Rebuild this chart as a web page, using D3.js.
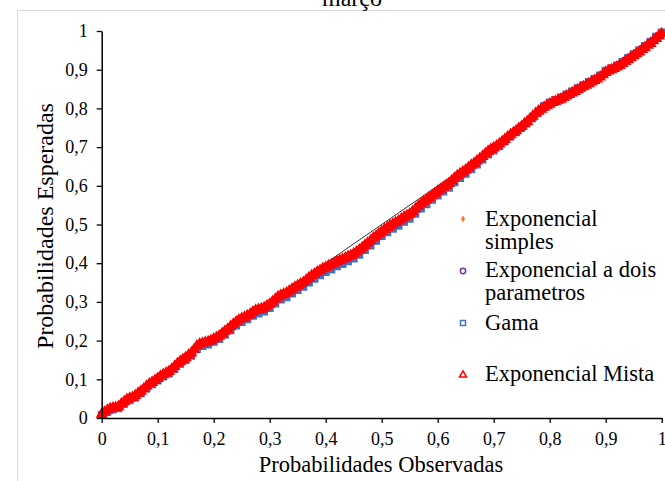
<!DOCTYPE html>
<html>
<head>
<meta charset="utf-8">
<script src="https://cdn.jsdelivr.net/npm/d3@7"></script>
<style>
  html, body { margin: 0; padding: 0; background: #fff; }
  svg { display: block; }
  text { font-family: "Liberation Serif", "Times New Roman", serif; fill: #000; }
</style>
</head>
<body>
<svg id="chart" width="665" height="481"></svg>
<script>
// ---------------- DATA ----------------
const chartTitle = "março";
const xTitle = "Probabilidades Observadas";
const yTitle = "Probabilidades Esperadas";
const tickValues = [0, 0.1, 0.2, 0.3, 0.4, 0.5, 0.6, 0.7, 0.8, 0.9, 1];
const tickLabels = ["0", "0,1", "0,2", "0,3", "0,4", "0,5", "0,6", "0,7", "0,8", "0,9", "1"];
const seriesNames = ["Exponencial simples", "Exponencial a dois parametros", "Gama", "Exponencial Mista"];

// observed probabilities (fine grid) and Exponencial Mista expected values
const obsFine = [0,0.005,0.01,0.015,0.02,0.025,0.03,0.035,0.04,0.045,0.05,0.055,0.06,0.065,0.07,0.075,0.08,0.085,0.09,0.095,
0.1,0.105,0.11,0.115,0.12,0.125,0.13,0.135,0.14,0.145,0.15,0.155,0.16,0.165,0.17,0.175,0.18,0.185,0.19,0.195,
0.2,0.205,0.21,0.215,0.22,0.225,0.23,0.235,0.24,0.245,0.25,0.255,0.26,0.265,0.27,0.275,0.28,0.285,0.29,0.295,
0.3,0.305,0.31,0.315,0.32,0.325,0.33,0.335,0.34,0.345,0.35,0.355,0.36,0.365,0.37,0.375,0.38,0.385,0.39,0.395,
0.4,0.405,0.41,0.415,0.42,0.425,0.43,0.435,0.44,0.445,0.45,0.455,0.46,0.465,0.47,0.475,0.48,0.485,0.49,0.495,
0.5,0.505,0.51,0.515,0.52,0.525,0.53,0.535,0.54,0.545,0.55,0.555,0.56,0.565,0.57,0.575,0.58,0.585,0.59,0.595,
0.6,0.605,0.61,0.615,0.62,0.625,0.63,0.635,0.64,0.645,0.65,0.655,0.66,0.665,0.67,0.675,0.68,0.685,0.69,0.695,
0.7,0.705,0.71,0.715,0.72,0.725,0.73,0.735,0.74,0.745,0.75,0.755,0.76,0.765,0.77,0.775,0.78,0.785,0.79,0.795,
0.8,0.805,0.81,0.815,0.82,0.825,0.83,0.835,0.84,0.845,0.85,0.855,0.86,0.865,0.87,0.875,0.88,0.885,0.89,0.895,
0.9,0.905,0.91,0.915,0.92,0.925,0.93,0.935,0.94,0.945,0.95,0.955,0.96,0.965,0.97,0.975,0.98,0.985,0.99,0.995,1];
const expMista = [0.010,0.015,0.020,0.024,0.026,0.027,0.029,0.036,0.042,0.048,0.051,0.053,0.058,0.064,0.069,0.075,0.082,0.088,0.092,0.097,
0.102,0.108,0.112,0.116,0.120,0.126,0.133,0.140,0.146,0.151,0.156,0.162,0.168,0.177,0.186,0.191,0.193,0.195,0.197,0.200,
0.204,0.208,0.212,0.218,0.224,0.229,0.236,0.242,0.248,0.253,0.257,0.260,0.264,0.268,0.274,0.278,0.280,0.282,0.285,0.290,
0.294,0.300,0.307,0.313,0.317,0.320,0.323,0.328,0.333,0.338,0.342,0.346,0.350,0.356,0.362,0.368,0.372,0.377,0.381,0.386,
0.389,0.393,0.396,0.400,0.404,0.407,0.410,0.413,0.417,0.420,0.424,0.429,0.434,0.440,0.446,0.452,0.458,0.465,0.470,0.476,
0.482,0.487,0.492,0.497,0.501,0.505,0.509,0.514,0.519,0.523,0.527,0.533,0.540,0.547,0.553,0.559,0.564,0.570,0.575,0.580,
0.586,0.591,0.596,0.601,0.606,0.613,0.620,0.626,0.631,0.636,0.641,0.647,0.653,0.658,0.664,0.670,0.676,0.683,0.689,0.694,
0.698,0.703,0.708,0.714,0.720,0.726,0.732,0.737,0.742,0.748,0.754,0.760,0.766,0.773,0.780,0.787,0.793,0.798,0.803,0.807,
0.811,0.815,0.818,0.821,0.824,0.828,0.832,0.836,0.840,0.844,0.848,0.852,0.856,0.860,0.864,0.868,0.872,0.876,0.881,0.887,
0.893,0.897,0.900,0.903,0.907,0.911,0.916,0.921,0.926,0.931,0.936,0.941,0.946,0.952,0.957,0.963,0.968,0.975,0.981,0.987,0.993];

// observed probabilities (medium grid) and Gama expected values
const obsMid = [0,0.01,0.02,0.03,0.04,0.05,0.06,0.07,0.08,0.09,0.1,0.11,0.12,0.13,0.14,0.15,0.16,0.17,0.18,0.19,
0.2,0.21,0.22,0.23,0.24,0.25,0.26,0.27,0.28,0.29,0.3,0.31,0.32,0.33,0.34,0.35,0.36,0.37,0.38,0.39,
0.4,0.41,0.42,0.43,0.44,0.45,0.46,0.47,0.48,0.49,0.5,0.51,0.52,0.53,0.54,0.55,0.56,0.57,0.58,0.59,
0.6,0.61,0.62,0.63,0.64,0.65,0.66,0.67,0.68,0.69,0.7,0.71,0.72,0.73,0.74,0.75,0.76,0.77,0.78,0.79,
0.8,0.81,0.82,0.83,0.84,0.85,0.86,0.87,0.88,0.89,0.9,0.91,0.92,0.93,0.94,0.95,0.96,0.97,0.98,0.99,1];
const expGama = [0.008,0.016,0.022,0.025,0.037,0.046,0.053,0.064,0.077,0.087,0.097,0.107,0.115,0.127,0.140,0.150,0.161,0.178,0.186,0.190,
0.197,0.204,0.215,0.227,0.239,0.248,0.255,0.264,0.270,0.275,0.284,0.296,0.306,0.312,0.322,0.331,0.339,0.350,0.360,0.369,
0.377,0.384,0.392,0.398,0.405,0.412,0.422,0.434,0.446,0.458,0.470,0.480,0.489,0.497,0.507,0.515,0.528,0.541,0.552,0.564,
0.575,0.585,0.595,0.609,0.620,0.631,0.643,0.655,0.668,0.681,0.691,0.702,0.715,0.728,0.739,0.752,0.764,0.778,0.792,0.806,
0.815,0.822,0.828,0.836,0.844,0.852,0.860,0.868,0.876,0.885,0.897,0.904,0.911,0.920,0.930,0.940,0.950,0.961,0.972,0.985,0.996];

// observed probabilities (coarse grid) for the two hidden exponential series
const obsCoarse = [0,0.02,0.04,0.06,0.08,0.1,0.12,0.14,0.16,0.18,0.2,0.22,0.24,0.26,0.28,0.3,0.32,0.34,0.36,0.38,
0.4,0.42,0.44,0.46,0.48,0.5,0.52,0.54,0.56,0.58,0.6,0.62,0.64,0.66,0.68,0.7,0.72,0.74,0.76,0.78,
0.8,0.82,0.84,0.86,0.88,0.9,0.92,0.94,0.96,0.98,1];
const expSimples = [0.009,0.025,0.041,0.057,0.080,0.100,0.119,0.144,0.165,0.191,0.201,0.221,0.245,0.261,0.277,0.291,0.313,0.329,0.346,0.368,
0.385,0.400,0.413,0.430,0.454,0.478,0.497,0.515,0.536,0.560,0.582,0.602,0.627,0.650,0.673,0.696,0.718,0.741,0.766,0.793,
0.811,0.825,0.841,0.858,0.874,0.895,0.909,0.928,0.948,0.970,0.994];
const expDois = [0.009,0.024,0.040,0.056,0.079,0.099,0.118,0.143,0.164,0.190,0.200,0.219,0.243,0.259,0.275,0.289,0.311,0.327,0.344,0.366,
0.383,0.398,0.411,0.428,0.452,0.476,0.495,0.513,0.534,0.558,0.580,0.600,0.625,0.648,0.671,0.694,0.717,0.740,0.765,0.792,
0.812,0.826,0.842,0.859,0.875,0.896,0.910,0.929,0.949,0.971,0.995];

// ---------------- DRAW ----------------
const svg = d3.select("#chart");
const x = d3.scaleLinear().domain([0, 1]).range([101.7, 661.7]);
const y = d3.scaleLinear().domain([0, 1]).range([418, 31]);

// chart area border
svg.append("rect").attr("x", 17.5).attr("y", 10.5).attr("width", 700).attr("height", 520)
  .attr("fill", "#fff").attr("stroke", "#d9d9d9").attr("stroke-width", 1);

// title (partly cut off at the top)
svg.append("text").attr("x", 352).attr("y", 6).attr("text-anchor", "middle")
  .style("font-size", "24px").text(chartTitle);

// 1:1 reference line
svg.append("line").attr("x1", x(0)).attr("y1", y(0)).attr("x2", x(1)).attr("y2", y(1))
  .attr("stroke", "#000").attr("stroke-width", 0.8);

const pts = (xs, ys) => xs.map((d, i) => [d, ys[i]]);

// Exponencial simples (orange small diamonds)
svg.append("g").selectAll("path").data(pts(obsCoarse, expSimples)).join("path")
  .attr("transform", d => `translate(${x(d[0])},${y(d[1])})`)
  .attr("d", d3.symbol(d3.symbolDiamond, 16)).attr("fill", "#ed7d31");

// Exponencial a dois parametros (purple circles)
svg.append("g").selectAll("path").data(pts(obsCoarse, expDois)).join("path")
  .attr("transform", d => `translate(${x(d[0])},${y(d[1])})`)
  .attr("d", d3.symbol(d3.symbolCircle, 26)).attr("fill", "none")
  .attr("stroke", "#7030a0").attr("stroke-width", 1.5);

// Gama (blue squares)
svg.append("g").selectAll("path").data(pts(obsMid, expGama)).join("path")
  .attr("transform", d => `translate(${x(d[0])},${y(d[1])})`)
  .attr("d", d3.symbol(d3.symbolSquare, 42)).attr("fill", "#4472c4")
  .attr("stroke", "#4472c4").attr("stroke-width", 1.5);

// Exponencial Mista (red triangles)
svg.append("g").selectAll("path").data(pts(obsFine, expMista)).join("path")
  .attr("transform", d => `translate(${x(d[0])},${y(d[1])})`)
  .attr("d", d3.symbol(d3.symbolTriangle, 40)).attr("fill", "#ff0000")
  .attr("stroke", "#ff0000").attr("stroke-width", 1.5);

// axes
const fmt = d => tickLabels[tickValues.indexOf(d)];
const xAxis = svg.append("g").attr("transform", `translate(0,${y(0)})`)
  .call(d3.axisBottom(x).tickValues(tickValues).tickFormat(fmt).tickSize(5).tickSizeOuter(0).tickPadding(9));
const yAxis = svg.append("g").attr("transform", `translate(${x(0)},0)`)
  .call(d3.axisLeft(y).tickValues(tickValues).tickFormat(fmt).tickSize(5).tickSizeOuter(0).tickPadding(9));
[xAxis, yAxis].forEach(g => {
  g.select(".domain").attr("stroke", "#000").attr("stroke-width", 1.5);
  g.selectAll(".tick line").attr("stroke", "#000").attr("stroke-width", 1.3);
  g.selectAll(".tick text").style("font-family", '"Liberation Serif", "Times New Roman", serif')
    .style("font-size", "18px").attr("fill", "#000");
});

// axis titles
svg.append("text").attr("x", 381).attr("y", 472).attr("text-anchor", "middle")
  .style("font-size", "22.5px").text(xTitle);
svg.append("text").attr("transform", "translate(53,226) rotate(-90)").attr("text-anchor", "middle")
  .style("font-size", "24px").text(yTitle);

// legend
const legendRows = [
  { lines: ["Exponencial", "simples"], my: 219, base: 226 },
  { lines: ["Exponencial a dois", "parametros"], my: 271, base: 277 },
  { lines: ["Gama"], my: 323, base: 330 },
  { lines: ["Exponencial Mista"], my: 375, base: 381 }
];
const leg = svg.append("g");
const mk = [
  g => g.append("path").attr("d", d3.symbol(d3.symbolDiamond, 14)).attr("fill", "#ed7d31"),
  g => g.append("path").attr("d", d3.symbol(d3.symbolCircle, 22)).attr("fill", "none").attr("stroke", "#7030a0").attr("stroke-width", 1.5),
  g => g.append("path").attr("d", d3.symbol(d3.symbolSquare, 25)).attr("fill", "none").attr("stroke", "#4472c4").attr("stroke-width", 1.5),
  g => g.append("path").attr("d", d3.symbol(d3.symbolTriangle, 22)).attr("fill", "none").attr("stroke", "#ff0000").attr("stroke-width", 1.5)
];
legendRows.forEach((r, i) => {
  const g = leg.append("g").attr("transform", `translate(463,${r.my})`);
  mk[i](g);
  r.lines.forEach((t, j) => {
    leg.append("text").attr("x", 485).attr("y", r.base + j * 23).style("font-size", "22.5px").text(t);
  });
});
</script>
</body>
</html>
